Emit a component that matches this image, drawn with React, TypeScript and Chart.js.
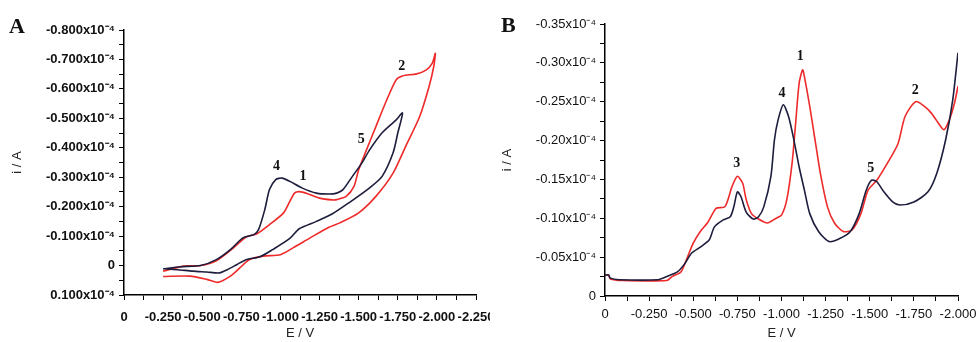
import React, { useEffect, useRef } from 'react';
import { Chart, registerables } from 'chart.js';

Chart.register(...registerables);

// ---------- Panel A (cyclic voltammograms) ----------
const aBlackE = [-0.25, -0.36, -0.49, -0.59, -0.68, -0.76, -0.83, -0.86, -0.90, -0.93, -0.97, -1.01, -1.06, -1.14, -1.23, -1.31, -1.36, -1.40, -1.46, -1.52, -1.57, -1.65, -1.74, -1.78,
  -1.75, -1.72, -1.65, -1.57, -1.44, -1.33, -1.23, -1.12, -1.06, -0.95, -0.87, -0.78, -0.72, -0.66, -0.61, -0.53, -0.44, -0.34, -0.25];
const aBlackI = [0.011, 0.004, 0.0, -0.020, -0.054, -0.094, -0.105, -0.122, -0.190, -0.258, -0.292, -0.297, -0.286, -0.263, -0.246, -0.243, -0.246, -0.258, -0.303, -0.348, -0.393, -0.451, -0.495, -0.518,
  -0.450, -0.383, -0.303, -0.264, -0.214, -0.175, -0.150, -0.125, -0.092, -0.054, -0.030, -0.020, -0.003, 0.014, 0.025, 0.022, 0.019, 0.014, 0.011];
const aRedE = [-0.25, -0.38, -0.49, -0.59, -0.70, -0.78, -0.85, -0.93, -1.02, -1.06, -1.09, -1.12, -1.17, -1.25, -1.33, -1.36, -1.42, -1.47, -1.50, -1.55, -1.61, -1.68, -1.74, -1.78, -1.87, -1.93, -1.97, -1.99,
  -1.98, -1.95, -1.89, -1.80, -1.72, -1.61, -1.50, -1.38, -1.31, -1.19, -1.08, -1.00, -0.89, -0.80, -0.74, -0.68, -0.60, -0.53, -0.42, -0.25];
const aRedI = [0.019, 0.002, 0.0, -0.016, -0.060, -0.097, -0.108, -0.139, -0.179, -0.218, -0.246, -0.251, -0.245, -0.229, -0.223, -0.224, -0.235, -0.269, -0.325, -0.393, -0.472, -0.563, -0.631, -0.644, -0.651, -0.664, -0.687, -0.721,
  -0.676, -0.608, -0.506, -0.404, -0.314, -0.235, -0.179, -0.145, -0.130, -0.094, -0.060, -0.037, -0.032, -0.020, 0.008, 0.036, 0.057, 0.047, 0.036, 0.037];
const aPeakText = ['4', '1', '2', '5'];
const aPeakE = [-0.974, -1.144, -1.775, -1.516];
const aPeakI = [-0.337, -0.303, -0.678, -0.427];
const aXTickValues = [0, -0.25, -0.5, -0.75, -1.0, -1.25, -1.5, -1.75, -2.0, -2.25];
const aXTickLabels = ['0', '-0.250', '-0.500', '-0.750', '-1.000', '-1.250', '-1.500', '-1.750', '-2.000', '-2.250'];
const aYTickValues = [-0.8, -0.7, -0.6, -0.5, -0.4, -0.3, -0.2, -0.1, 0, 0.1];
const aYTickLabels = ['-0.800x10⁻⁴', '-0.700x10⁻⁴', '-0.600x10⁻⁴', '-0.500x10⁻⁴', '-0.400x10⁻⁴', '-0.300x10⁻⁴', '-0.200x10⁻⁴', '-0.100x10⁻⁴', '0', '0.100x10⁻⁴'];

// ---------- Panel B (differential pulse voltammograms) ----------
const bBlackE = [0, -0.02, -0.03, -0.08, -0.30, -0.35, -0.41, -0.45, -0.49, -0.54, -0.59, -0.62, -0.67, -0.71, -0.73, -0.75, -0.77, -0.80, -0.84, -0.87, -0.90, -0.94, -0.96, -0.98, -1.01, -1.04, -1.07, -1.10, -1.13, -1.16, -1.21, -1.27, -1.33, -1.39, -1.44, -1.48, -1.51, -1.54, -1.58, -1.63, -1.67, -1.75, -1.83, -1.88, -1.93, -1.97, -2.00];
const bBlackI = [-0.027, -0.027, -0.023, -0.021, -0.021, -0.025, -0.031, -0.041, -0.055, -0.063, -0.072, -0.089, -0.098, -0.102, -0.115, -0.134, -0.128, -0.108, -0.099, -0.102, -0.115, -0.154, -0.201, -0.226, -0.246, -0.231, -0.201, -0.166, -0.136, -0.106, -0.083, -0.070, -0.074, -0.083, -0.106, -0.136, -0.149, -0.147, -0.134, -0.121, -0.117, -0.121, -0.134, -0.158, -0.201, -0.252, -0.313];
const bRedE = [0, -0.02, -0.03, -0.10, -0.35, -0.38, -0.43, -0.46, -0.50, -0.54, -0.58, -0.61, -0.63, -0.68, -0.72, -0.75, -0.78, -0.80, -0.83, -0.87, -0.92, -0.97, -1.00, -1.03, -1.06, -1.08, -1.10, -1.12, -1.13, -1.16, -1.19, -1.22, -1.26, -1.30, -1.35, -1.40, -1.45, -1.49, -1.54, -1.60, -1.66, -1.70, -1.76, -1.81, -1.85, -1.89, -1.92, -1.95, -1.98, -2.00];
const bRedI = [-0.027, -0.027, -0.022, -0.020, -0.020, -0.025, -0.031, -0.046, -0.068, -0.083, -0.094, -0.106, -0.113, -0.115, -0.141, -0.154, -0.145, -0.124, -0.106, -0.099, -0.094, -0.100, -0.104, -0.124, -0.171, -0.222, -0.274, -0.291, -0.282, -0.244, -0.201, -0.158, -0.115, -0.094, -0.083, -0.085, -0.106, -0.136, -0.149, -0.171, -0.196, -0.231, -0.250, -0.244, -0.235, -0.222, -0.214, -0.226, -0.248, -0.270];
const bPeakText = ['1', '4', '3', '5', '2'];
const bPeakE = [-1.106, -1.003, -0.747, -1.506, -1.758];
const bPeakI = [-0.308, -0.261, -0.171, -0.164, -0.265];
const bXTickValues = [0, -0.25, -0.5, -0.75, -1.0, -1.25, -1.5, -1.75, -2.0];
const bXTickLabels = ['0', '-0.250', '-0.500', '-0.750', '-1.000', '-1.250', '-1.500', '-1.750', '-2.000'];
const bYTickValues = [-0.35, -0.3, -0.25, -0.2, -0.15, -0.1, -0.05, 0];
const bYTickLabels = ['-0.35x10⁻⁴', '-0.30x10⁻⁴', '-0.25x10⁻⁴', '-0.20x10⁻⁴', '-0.15x10⁻⁴', '-0.10x10⁻⁴', '-0.05x10⁻⁴', '0'];

const RED = '#ee2a2a';
const BLACK = '#1d1d3d';
const H = 342;

function lookup(values: number[], labels: string[]) {
  return (v: number | string) => {
    const n = Number(v);
    for (let k = 0; k < values.length; k++) {
      if (Math.abs(values[k] - n) < 1e-6) return labels[k];
    }
    return '';
  };
}

function pts(xs: number[], ys: number[]) {
  return xs.map((x, k) => ({ x, y: ys[k] }));
}

const annotate = {
  id: 'annotate',
  afterDatasetsDraw(chart: any, _args: any, opts: any) {
    const ctx = chart.ctx;
    const xs = chart.scales.x;
    const ys = chart.scales.y;
    ctx.save();
    ctx.fillStyle = '#111';
    ctx.font = 'bold 14px "Liberation Serif", "Times New Roman", serif';
    ctx.textAlign = 'center';
    ctx.textBaseline = 'middle';
    opts.text.forEach((t: string, k: number) => {
      ctx.fillText(t, xs.getPixelForValue(opts.e[k]), ys.getPixelForValue(opts.i[k]));
    });
    ctx.font = 'bold 22px "Liberation Serif", "Times New Roman", serif';
    ctx.textAlign = 'left';
    ctx.textBaseline = 'alphabetic';
    ctx.fillText(opts.letter, opts.lx, opts.ly);
    ctx.restore();
  },
};

type PanelProps = {
  left: number; width: number;
  area: { l: number; r: number; t: number; b: number };
  xMin: number; xStep: number; xVals: number[]; xLabels: string[];
  yMin: number; yMax: number; yStep: number; yVals: number[]; yLabels: string[];
  black: { x: number; y: number }[]; red: { x: number; y: number }[];
  peaks: { text: string[]; e: number[]; i: number[] };
  letter: string; lx: number; ly: number;
  tickFont: any; xPad: number;
};

function Panel(p: PanelProps) {
  const ref = useRef<HTMLCanvasElement>(null);
  useEffect(() => {
    const axisColor = '#000';
    const titleFont = { family: '"Liberation Sans", Arial, sans-serif', size: 13 };
    const chart = new Chart(ref.current as HTMLCanvasElement, {
      type: 'scatter',
      data: {
        datasets: [
          { data: p.black, borderColor: BLACK, backgroundColor: BLACK, showLine: true, pointRadius: 0, borderWidth: 1.6, tension: 0.25, fill: false },
          { data: p.red, borderColor: RED, backgroundColor: RED, showLine: true, pointRadius: 0, borderWidth: 1.6, tension: 0.25, fill: false },
        ],
      },
      options: {
        animation: false,
        responsive: false,
        layout: { autoPadding: false, padding: { left: 0, right: p.width - p.area.r, top: p.area.t, bottom: 0 } },
        plugins: {
          legend: { display: false },
          tooltip: { enabled: false },
          annotate: { text: p.peaks.text, e: p.peaks.e, i: p.peaks.i, letter: p.letter, lx: p.lx, ly: p.ly },
        } as any,
        scales: {
          x: {
            type: 'linear', position: 'bottom', reverse: true, min: p.xMin, max: 0,
            ticks: { stepSize: p.xStep, autoSkip: false, maxRotation: 0, minRotation: 0, padding: p.xPad, color: '#111', font: p.tickFont, callback: lookup(p.xVals, p.xLabels) },
            grid: { drawOnChartArea: false, drawTicks: true, tickLength: 5, color: axisColor, lineWidth: 1 },
            border: { display: true, color: axisColor, width: 1.5 },
            title: { display: true, text: 'E / V', color: '#222', font: titleFont, padding: 1 },
            afterFit: (s: any) => { s.height = H - p.area.b; s.paddingLeft = 0; s.paddingRight = 0; },
          },
          y: {
            type: 'linear', position: 'left', reverse: true, min: p.yMin, max: p.yMax,
            ticks: { stepSize: p.yStep, autoSkip: false, padding: 4, color: '#111', font: p.tickFont, callback: lookup(p.yVals, p.yLabels) },
            grid: { drawOnChartArea: false, drawTicks: true, tickLength: 5, color: axisColor, lineWidth: 1 },
            border: { display: true, color: axisColor, width: 1.5 },
            title: { display: true, text: 'i / A', color: '#222', font: titleFont, padding: 10 },
            afterFit: (s: any) => { s.width = p.area.l; s.paddingTop = 0; s.paddingBottom = 0; },
          },
        },
      } as any,
      plugins: [annotate],
    });
    return () => chart.destroy();
  }, []);
  return (
    <canvas ref={ref} width={p.width} height={H}
      style={{ position: 'absolute', left: p.left, top: 0, width: p.width, height: H }} />
  );
}

export default function App() {
  return (
    <div style={{ position: 'absolute', left: 0, top: 0, width: 979, height: H, background: '#fff', overflow: 'hidden' }}>
      <Panel left={0} width={490} area={{ l: 124, r: 476, t: 30, b: 295 }}
        xMin={-2.25} xStep={0.125} xVals={aXTickValues} xLabels={aXTickLabels}
        yMin={-0.8} yMax={0.1} yStep={0.05} yVals={aYTickValues} yLabels={aYTickLabels}
        black={pts(aBlackE, aBlackI)} red={pts(aRedE, aRedI)}
        peaks={{ text: aPeakText, e: aPeakE, i: aPeakI }}
        letter="A" lx={9} ly={33}
        tickFont={{ family: '"Liberation Sans", Arial, sans-serif', size: 13, weight: 'bold' }} xPad={10} />
      <Panel left={490} width={489} area={{ l: 115, r: 468, t: 24, b: 296 }}
        xMin={-2.0} xStep={0.125} xVals={bXTickValues} xLabels={bXTickLabels}
        yMin={-0.35} yMax={0} yStep={0.025} yVals={bYTickValues} yLabels={bYTickLabels}
        black={pts(bBlackE, bBlackI)} red={pts(bRedE, bRedI)}
        peaks={{ text: bPeakText, e: bPeakE, i: bPeakI }}
        letter="B" lx={11} ly={32}
        tickFont={{ family: '"Liberation Sans", Arial, sans-serif', size: 13 }} xPad={6} />
    </div>
  );
}
